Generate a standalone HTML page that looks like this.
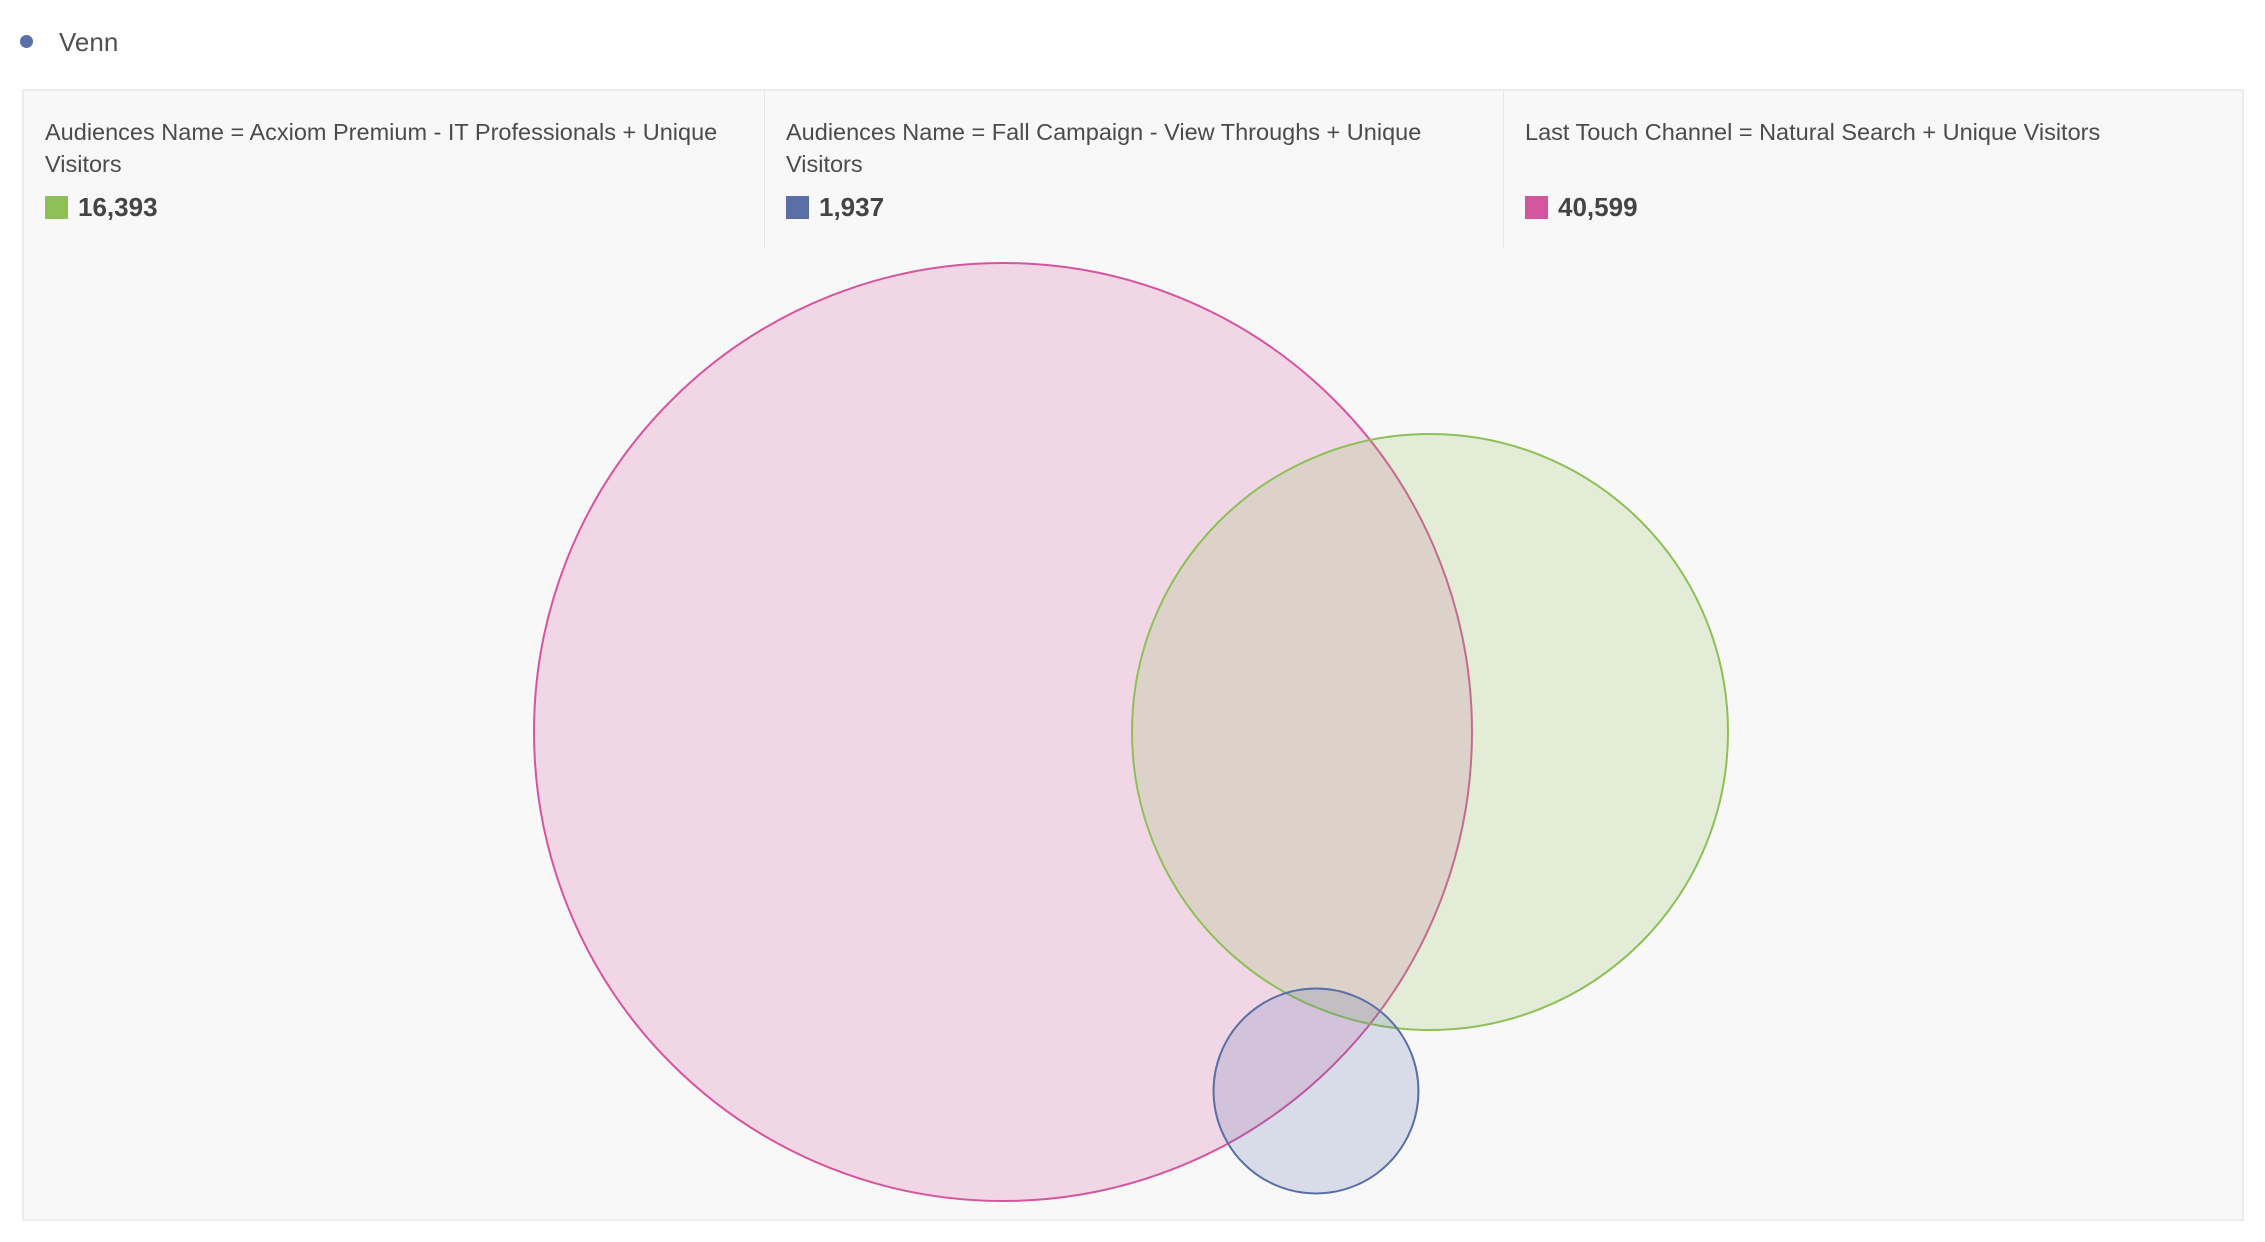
<!DOCTYPE html>
<html><head><meta charset="utf-8"><style>
html,body{margin:0;padding:0;background:#fff;width:2265px;height:1242px;overflow:hidden;font-family:"Liberation Sans",sans-serif;color:#4b4b4b}
#title{position:absolute;left:20px;top:27px;font-size:26px;color:#505050}
#title .dot{display:inline-block;width:13px;height:13px;border-radius:50%;background:#5a6fa8;margin-right:26px;vertical-align:middle;position:relative;top:-3px}
#panel{position:absolute;left:22px;top:89px;width:2218px;height:1128px;background:#f8f8f8;border:2px solid #ececec}
.col{position:absolute;top:0;height:158px;width:740px}
.col.div{border-left:1px solid #e6e6e6}
.lbl{position:absolute;left:21px;top:25px;font-size:23.5px;line-height:32px;color:#4b4b4b;white-space:nowrap}
.val{position:absolute;left:21px;top:101px;font-size:26px;font-weight:bold;color:#444}
.sw{display:inline-block;width:23px;height:23px;vertical-align:middle;margin-right:10px;position:relative;top:-2px}
svg{position:absolute;left:0;top:0}
</style></head><body>
<div id="title"><span class="dot"></span>Venn</div>
<div id="panel">
 <div class="col" style="left:0">
  <div class="lbl">Audiences Name = Acxiom Premium - IT Professionals + Unique<br>Visitors</div>
  <div class="val"><span class="sw" style="background:#8ec057"></span>16,393</div>
 </div>
 <div class="col div" style="left:740px">
  <div class="lbl">Audiences Name = Fall Campaign - View Throughs + Unique<br>Visitors</div>
  <div class="val"><span class="sw" style="background:#5a6fa8"></span>1,937</div>
 </div>
 <div class="col div" style="left:1479px">
  <div class="lbl">Last Touch Channel = Natural Search + Unique Visitors</div>
  <div class="val"><span class="sw" style="background:#d6559f"></span>40,599</div>
 </div>
</div>
<svg id="venn" width="2265" height="1242"></svg>
<script>
const setNames = ["natural-search","acxiom","fall-campaign"];
const setValues = [40599, 16393, 1937];
const setColors = ["#d6559f","#8ec057","#5a6fa8"];
const centerX = [1003, 1430, 1316];
const centerY = [732, 732, 1091];
const k = 469/Math.sqrt(40599);
function rScale(v){return k*Math.sqrt(v);}
const svg=document.getElementById('venn');
const NS='http://www.w3.org/2000/svg';
for(let i=0;i<setValues.length;i++){
  const c=document.createElementNS(NS,'circle');
  
  
  c.setAttribute('cx',centerX[i]);
  c.setAttribute('cy',centerY[i]);
  c.setAttribute('r',rScale(setValues[i]));
  c.setAttribute('fill',setColors[i]);
  c.setAttribute('fill-opacity','0.2');
  c.setAttribute('stroke',setColors[i]);
  c.setAttribute('stroke-width','2');
  svg.appendChild(c);
}
</script>
</body></html>
